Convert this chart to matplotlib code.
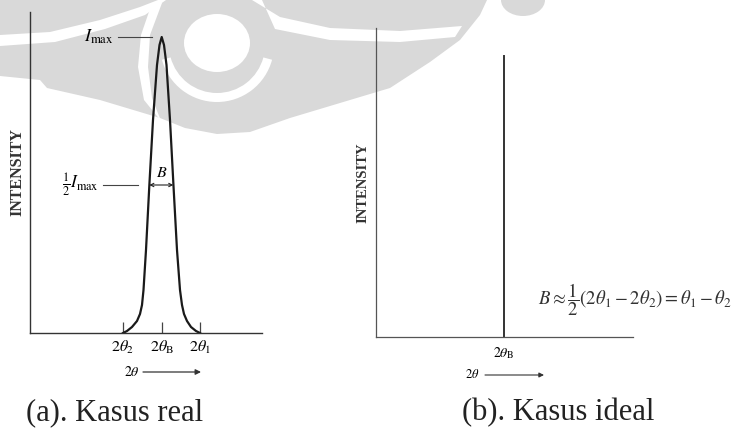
import numpy as np
import matplotlib
matplotlib.use("Agg")
import matplotlib.pyplot as plt
from matplotlib.patches import Polygon, Ellipse, Wedge

plt.rcParams["font.family"] = "Liberation Serif"
plt.rcParams["mathtext.fontset"] = "stix"

# (a) real case: diffraction peak profile
peak_x = [93, 97, 102, 107, 110, 112, 113.5, 116, 119.3, 123, 127, 129.5, 131.7,
          134, 136.5, 140, 143.5, 147, 150, 152, 154, 157, 161, 166, 170]
peak_y = [0, 2, 6, 12, 19, 28, 43, 83, 147, 213, 268, 288, 296,
          288, 268, 213, 147, 83, 43, 28, 19, 12, 6, 2, 0]
ticks_a = [93, 132, 170]
tick_labels_a = [r"$2\theta_2$", r"$2\theta_{\mathrm{B}}$", r"$2\theta_1$"]
i_max = 296
half_left, half_right = 119.3, 143.3

# (b) ideal case: a single line at the Bragg angle
ideal_x = 128
ideal_h = 281

fig = plt.figure(figsize=(7.36, 4.28), dpi=100)

# faint watermark logo behind everything (pixel coords, y down)
wm = fig.add_axes([0, 0, 1, 1], zorder=-5)
wm.set_xlim(0, 736)
wm.set_ylim(428, 0)
wm.axis("off")
grey = "#d9d9d9"
wm.add_patch(Polygon([(0, 0), (487, 0), (480, 15), (460, 40), (430, 62), (390, 88),
                      (340, 103), (290, 118), (250, 132), (217, 134), (185, 128),
                      (160, 118), (100, 100), (47, 88), (40, 80), (0, 76)],
                     closed=True, fc=grey, ec="none"))
wm.add_patch(Ellipse((523, 0), 44, 32, fc=grey, ec="none"))
white_bands = [
    [(0, 35), (50, 32), (100, 20), (140, 7), (158, 0), (166, 0), (145, 15),
     (105, 29), (55, 42), (0, 46)],
    [(152, 3), (141, 35), (138, 67), (144, 100), (161, 121), (152, 98),
     (148, 67), (150, 35), (162, 3)],
    [(252, 0), (280, 17), (330, 28), (400, 31), (462, 26), (455, 37),
     (400, 42), (330, 40), (275, 29), (262, 0)],
]
for band in white_bands:
    wm.add_patch(Polygon(band, closed=True, fc="white", ec="none"))
wm.add_patch(Ellipse((217, 43), 66, 58, fc="white", ec="none"))
wm.add_patch(Wedge((217, 45), 57, 15, 165, width=9, fc="white", ec="none"))

# ---- panel (a)
ax = fig.add_axes([30 / 736, (428 - 333) / 428, 232 / 736, 321 / 428])
ax.patch.set_visible(False)
ax.plot(peak_x, peak_y, color="#1a1a1a", lw=1.6, solid_joinstyle="round")
ax.set_xlim(0, 232)
ax.set_ylim(0, 321)
for s in ["top", "right"]:
    ax.spines[s].set_visible(False)
for s in ["left", "bottom"]:
    ax.spines[s].set_color("#333333")
    ax.spines[s].set_linewidth(1.0)
ax.set_yticks([])
ax.set_xticks(ticks_a)
ax.set_xticklabels(tick_labels_a, fontsize=11.5)
ax.tick_params(axis="x", direction="in", length=8, width=0.9, color="#444444", pad=4)

ax.plot([88, 122], [i_max, i_max], color="#444444", lw=0.8)
ax.text(84, i_max, r"$I_{\mathrm{max}}$", fontsize=13, ha="right", va="center")
ax.plot([73, 108], [i_max / 2, i_max / 2], color="#444444", lw=0.8)
ax.text(69, i_max / 2, r"$\frac{1}{2}I_{\mathrm{max}}$", fontsize=12.5, ha="right", va="center")
ax.annotate("", xy=(half_left, i_max / 2), xytext=(half_right, i_max / 2),
            arrowprops=dict(arrowstyle="<->", lw=0.8, color="#222222",
                            shrinkA=0, shrinkB=0, mutation_scale=6))
ax.text(132, i_max / 2 + 4, r"$B$", fontsize=11.5, ha="center", va="bottom")
ax.text(-13, 161, "INTENSITY", rotation=90, fontsize=11.5, fontweight="bold",
        ha="center", va="center", color="#333333")
ax.text(102, -39, r"$2\theta$", fontsize=10, ha="center", va="center", clip_on=False)
ax.annotate("", xy=(171, -39), xytext=(113, -39), annotation_clip=False,
            arrowprops=dict(arrowstyle="-|>", lw=0.9, color="#333333",
                            shrinkA=0, shrinkB=0, mutation_scale=8))

# ---- panel (b)
bx = fig.add_axes([376 / 736, (428 - 337) / 428, 257 / 736, 309 / 428])
bx.patch.set_visible(False)
bx.plot([ideal_x, ideal_x], [0, ideal_h], color="#333333", lw=1.4)
bx.set_xlim(0, 257)
bx.set_ylim(0, 309)
for s in ["top", "right"]:
    bx.spines[s].set_visible(False)
for s in ["left", "bottom"]:
    bx.spines[s].set_color("#555555")
    bx.spines[s].set_linewidth(0.9)
bx.set_yticks([])
bx.set_xticks([ideal_x])
bx.set_xticklabels([r"$2\theta_{\mathrm{B}}$"], fontsize=10)
bx.tick_params(axis="x", length=0, pad=6)
bx.text(-13, 154, "INTENSITY", rotation=90, fontsize=10.5, fontweight="bold",
        ha="center", va="center", color="#333333")
bx.text(96, -38, r"$2\theta$", fontsize=9, ha="center", va="center", clip_on=False)
bx.annotate("", xy=(168, -38), xytext=(109, -38), annotation_clip=False,
            arrowprops=dict(arrowstyle="-|>", lw=0.8, color="#333333",
                            shrinkA=0, shrinkB=0, mutation_scale=7))
bx.text(162, 37, r"$B \approx \dfrac{1}{2}(2\theta_1 - 2\theta_2) = \theta_1 - \theta_2$",
        fontsize=13.5, ha="left", va="center", color="#333333", clip_on=False)

# ---- captions
fig.text(115 / 736, 1 - 413 / 428, "(a). Kasus real", fontsize=22, ha="center", va="center",
         color="#222222")
fig.text(558 / 736, 1 - 413 / 428, "(b). Kasus ideal", fontsize=22, ha="center", va="center",
         color="#222222")

fig.savefig("out.png", dpi=100)
